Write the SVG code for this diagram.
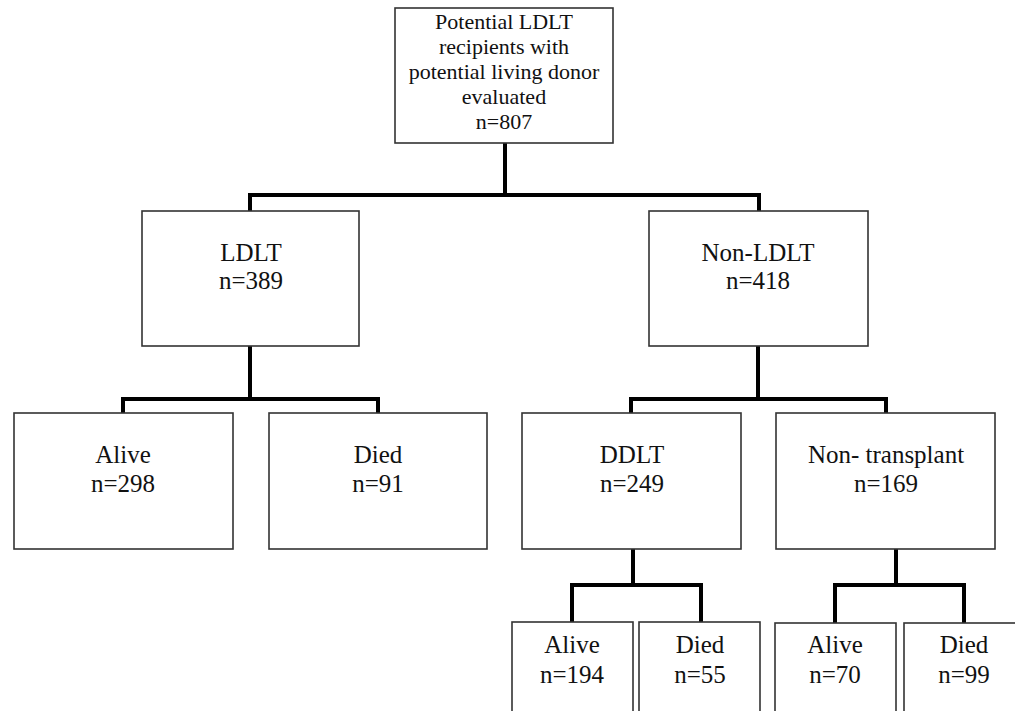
<svg xmlns="http://www.w3.org/2000/svg" width="1015" height="711" viewBox="0 0 1015 711">
<style>
.box{fill:#fff;stroke:#333;stroke-width:1.6}
.t{font-family:"Liberation Serif","Times New Roman",serif;font-size:25px;fill:#111;text-anchor:middle}
.ts{font-size:22px}
.c{fill:none;stroke:#000;stroke-width:4;stroke-linejoin:miter}
</style>
<rect width="1015" height="711" fill="#fff"/>
<g id="connectors">
<path class="c" d="M505 143V195M250 211V195H759V211"/>
<path class="c" d="M250 346V399M123 413V399H378V413"/>
<path class="c" d="M758 346V399M631 413V399H886V413"/>
<path class="c" d="M633 549V585M572 622V585H701V622"/>
<path class="c" d="M896 549V585M835 623V585H964V623"/>
</g>
<g id="root"><rect class="box" x="395" y="8" width="218" height="135"/>
<text class="t ts" x="504" y="29">Potential LDLT</text>
<text class="t ts" x="504" y="54">recipients with</text>
<text class="t ts" x="504" y="79">potential living donor</text>
<text class="t ts" x="504" y="104">evaluated</text>
<text class="t ts" x="504" y="129">n=807</text></g>
<g id="ldlt"><rect class="box" x="142" y="211" width="217" height="135"/>
<text class="t" x="251" y="261">LDLT</text><text class="t" x="251" y="289">n=389</text></g>
<g id="nonldlt"><rect class="box" x="649" y="211" width="219" height="135"/>
<text class="t" x="758" y="261">Non-LDLT</text><text class="t" x="758" y="289">n=418</text></g>
<g id="ldlt-alive"><rect class="box" x="14" y="413" width="219" height="136"/>
<text class="t" x="123" y="463">Alive</text><text class="t" x="123" y="492">n=298</text></g>
<g id="ldlt-died"><rect class="box" x="269" y="413" width="218" height="136"/>
<text class="t" x="378" y="463">Died</text><text class="t" x="378" y="492">n=91</text></g>
<g id="ddlt"><rect class="box" x="522" y="413" width="219" height="136"/>
<text class="t" x="632" y="463">DDLT</text><text class="t" x="632" y="492">n=249</text></g>
<g id="nontx"><rect class="box" x="776" y="413" width="219" height="136"/>
<text class="t" x="886" y="463">Non- transplant</text><text class="t" x="886" y="492">n=169</text></g>
<g id="ddlt-alive"><rect class="box" x="512" y="622" width="121" height="95"/>
<text class="t" x="572" y="653">Alive</text><text class="t" x="572" y="683">n=194</text></g>
<g id="ddlt-died"><rect class="box" x="639" y="622" width="121" height="95"/>
<text class="t" x="700" y="653">Died</text><text class="t" x="700" y="683">n=55</text></g>
<g id="nontx-alive"><rect class="box" x="775" y="623" width="121" height="95"/>
<text class="t" x="835" y="653">Alive</text><text class="t" x="835" y="683">n=70</text></g>
<g id="nontx-died"><rect class="box" x="904" y="623" width="121" height="95"/>
<text class="t" x="964" y="653">Died</text><text class="t" x="964" y="683">n=99</text></g>
</svg>
